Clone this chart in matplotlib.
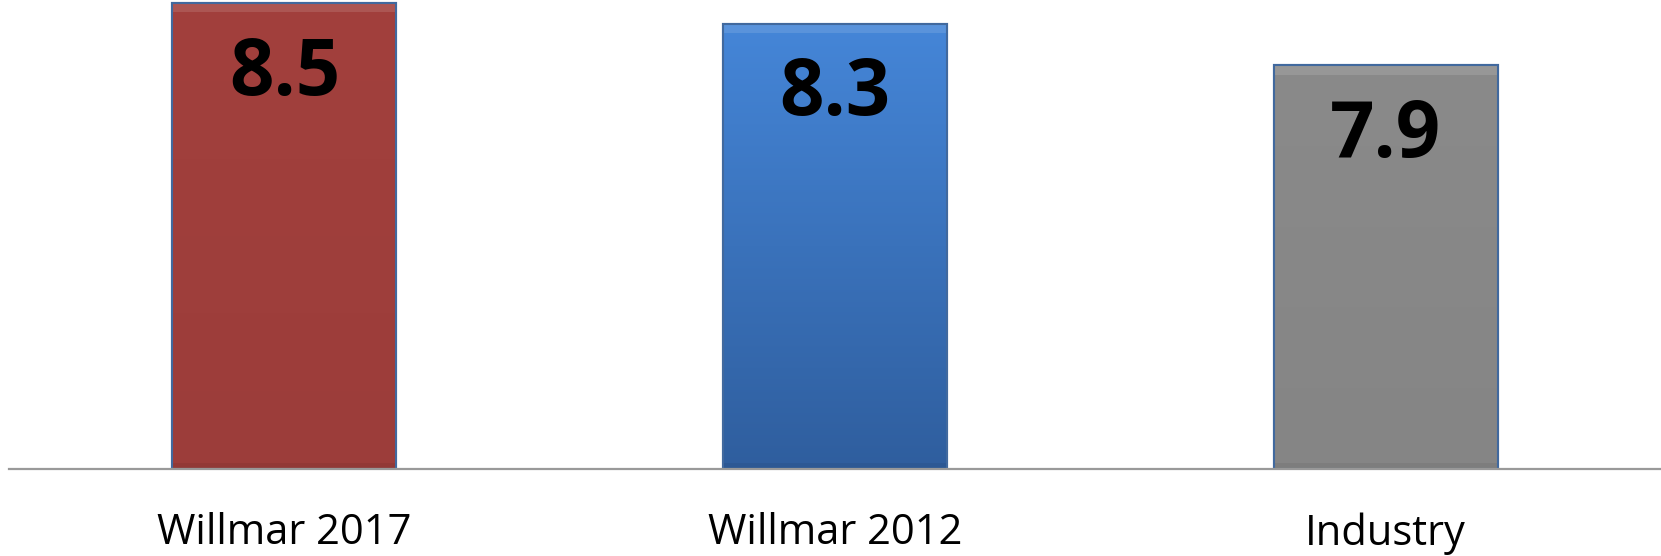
import numpy as np
import matplotlib
matplotlib.use("Agg")
import matplotlib.pyplot as plt
from matplotlib.colors import LinearSegmentedColormap

categories = ["Willmar 2017", "Willmar 2012", "Industry"]
values = [8.5, 8.3, 7.9]
labels = ["8.5", "8.3", "7.9"]
top_colors = ["#a2403d", "#4586d8", "#8a8a8a"]
bottom_colors = ["#9c3d3a", "#2f5e9e", "#858585"]

fig = plt.figure(figsize=(16.61, 5.56), dpi=100)
# axes: x from ~9px to right edge, baseline at y=469px from top
ax = fig.add_axes([9 / 1661, (556 - 469) / 556, 1 - 9 / 1661, 469 / 556])
ax.set_xlim(-0.5, 2.5)
ax.set_ylim(4, 8.53)

x = np.arange(len(categories))
width = 0.407
bars = ax.bar(x, [v - 4 for v in values], bottom=4, width=width,
              color=top_colors, edgecolor="#41699e", linewidth=1.5, zorder=2)

# vertical gradient + soft bevels inside each bar
for b, c1, c2 in zip(bars, top_colors, bottom_colors):
    x0, y0 = b.get_x(), b.get_y()
    w, h = b.get_width(), b.get_height()
    cmap = LinearSegmentedColormap.from_list("g", [c2, c1])
    grad = np.linspace(0, 1, 256).reshape(-1, 1)
    im = ax.imshow(grad, cmap=cmap, aspect="auto", origin="lower",
                   extent=(x0, x0 + w, y0, y0 + h), zorder=2.1)
    im.set_clip_path(b)
    ax.fill_between([x0, x0 + w], y0 + h - 0.09, y0 + h, color="white",
                    alpha=0.12, lw=0, zorder=2.2)
    ax.fill_between([x0, x0 + w], y0, y0 + 0.06, color="black",
                    alpha=0.06, lw=0, zorder=2.2)
    ax.add_patch(plt.Rectangle((x0, y0), w, h, fill=False,
                               edgecolor="#41699e", lw=1.5, zorder=2.3))

for xi, v, lab in zip(x, values, labels):
    ax.annotate(lab, (xi, v), xytext=(0, -71), textcoords="offset pixels",
                ha="center", va="center", fontsize=56, fontweight="bold",
                family="Open Sans", color="black", zorder=3)

ax.set_xticks(x)
ax.set_xticklabels(categories, fontsize=30, family="Open Sans")
ax.tick_params(axis="x", length=0, pad=31)
ax.set_yticks([])
for s in ["top", "right", "left"]:
    ax.spines[s].set_visible(False)
ax.spines["bottom"].set_color("#999999")
ax.spines["bottom"].set_linewidth(1.6)
ax.spines["bottom"].set_zorder(3)

fig.savefig("out.png", dpi=100)
